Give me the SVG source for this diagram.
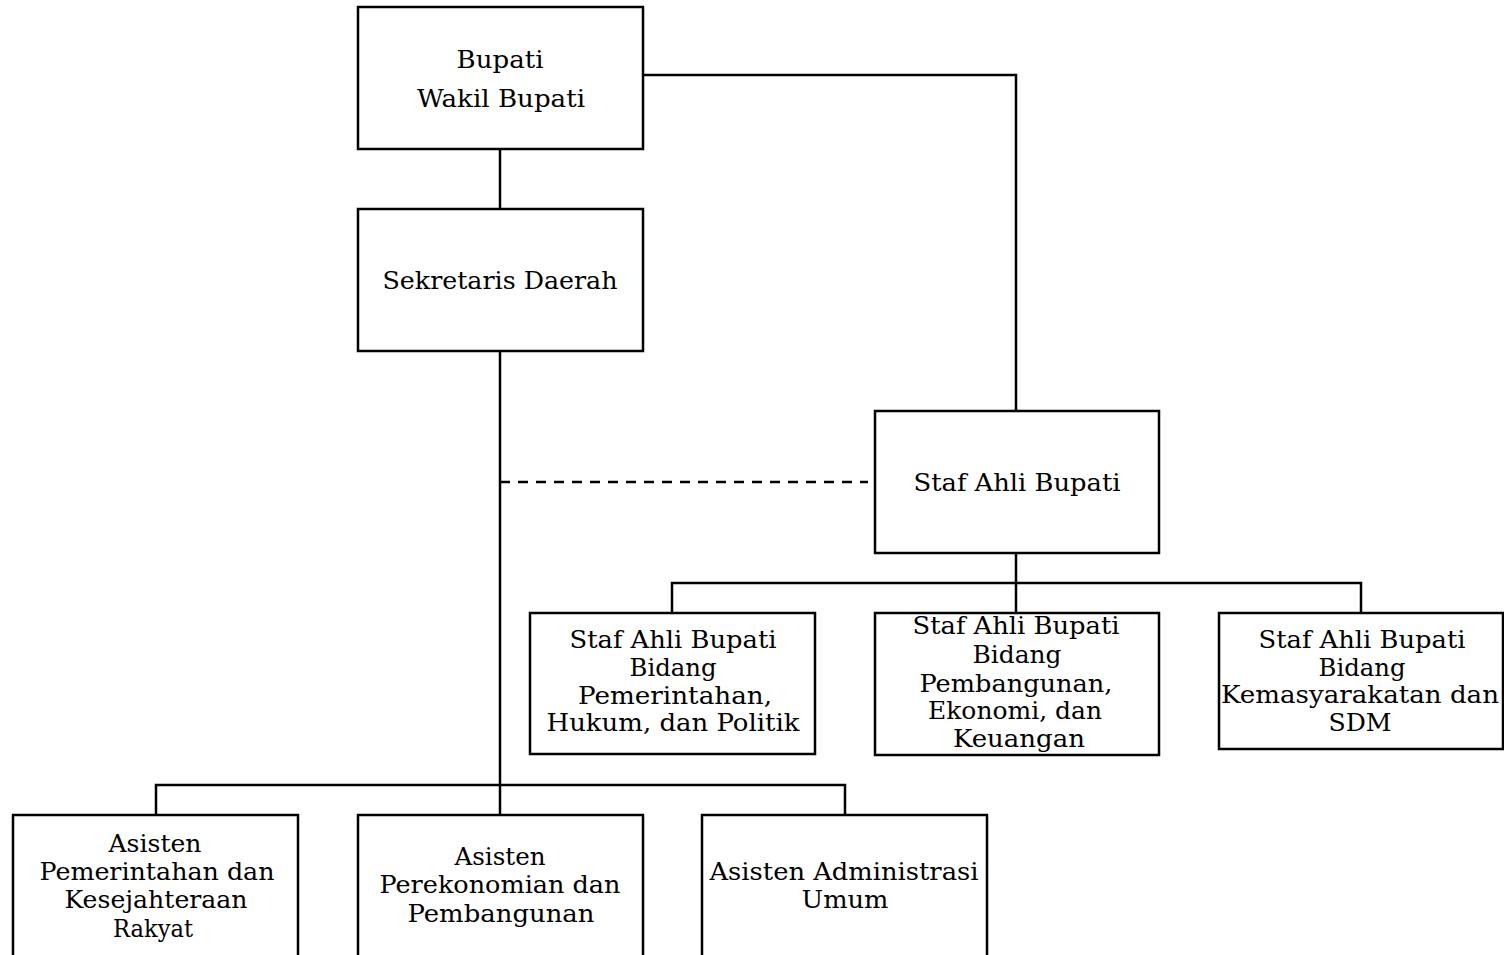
<svg xmlns="http://www.w3.org/2000/svg" width="1504" height="955" viewBox="0 0 1504 955">
<style>
.box{fill:#fff;stroke:#000;stroke-width:2.5}
.ln{fill:none;stroke:#000;stroke-width:2.5}
.dash{fill:none;stroke:#000;stroke-width:2.5;stroke-dasharray:10 8}
text{font-family:"DejaVu Serif","Liberation Serif",serif;font-size:23.5px;fill:#000;text-anchor:middle}
</style>
<rect width="1504" height="955" fill="#fff"/>
<g id="connectors">
<path class="ln" d="M643 75H1016V411"/>
<path class="ln" d="M500 149V209"/>
<path class="ln" d="M500 351V815"/>
<path class="dash" d="M500 482H868"/>
<path class="ln" d="M1016 553V583M672 613V583H1361V613M1016 583V613"/>
<path class="ln" d="M156 815V785H845V815"/>
</g>
<g id="bupati">
<rect class="box" x="358" y="7" width="285" height="142"/>
<text x="500" y="68" textLength="87" lengthAdjust="spacingAndGlyphs">Bupati</text>
<text x="501" y="107" textLength="168" lengthAdjust="spacingAndGlyphs">Wakil Bupati</text>
</g>
<g id="sekda">
<rect class="box" x="358" y="209" width="285" height="142"/>
<text x="500" y="289" textLength="235" lengthAdjust="spacingAndGlyphs">Sekretaris Daerah</text>
</g>
<g id="staf-ahli">
<rect class="box" x="875" y="411" width="284" height="142"/>
<text x="1017" y="491" textLength="207" lengthAdjust="spacingAndGlyphs">Staf Ahli Bupati</text>
</g>
<g id="staf-pemerintahan">
<rect class="box" x="530" y="613" width="285" height="141"/>
<text x="673" y="648" textLength="207" lengthAdjust="spacingAndGlyphs">Staf Ahli Bupati</text>
<text x="673" y="676" textLength="87" lengthAdjust="spacingAndGlyphs">Bidang</text>
<text x="675" y="704" textLength="194" lengthAdjust="spacingAndGlyphs">Pemerintahan,</text>
<text x="673" y="731" textLength="253" lengthAdjust="spacingAndGlyphs">Hukum, dan Politik</text>
</g>
<g id="staf-pembangunan">
<rect class="box" x="875" y="613" width="284" height="142"/>
<text x="1016" y="634" textLength="207" lengthAdjust="spacingAndGlyphs">Staf Ahli Bupati</text>
<text x="1017" y="663" textLength="89" lengthAdjust="spacingAndGlyphs">Bidang</text>
<text x="1016" y="692" textLength="193" lengthAdjust="spacingAndGlyphs">Pembangunan,</text>
<text x="1015" y="719" textLength="174" lengthAdjust="spacingAndGlyphs">Ekonomi, dan</text>
<text x="1019" y="747" textLength="132" lengthAdjust="spacingAndGlyphs">Keuangan</text>
</g>
<g id="staf-kemasyarakatan">
<rect class="box" x="1219" y="613" width="284" height="136"/>
<text x="1362" y="648" textLength="207" lengthAdjust="spacingAndGlyphs">Staf Ahli Bupati</text>
<text x="1362" y="676" textLength="87" lengthAdjust="spacingAndGlyphs">Bidang</text>
<text x="1360" y="703" textLength="278" lengthAdjust="spacingAndGlyphs">Kemasyarakatan dan</text>
<text x="1360" y="731" textLength="63" lengthAdjust="spacingAndGlyphs">SDM</text>
</g>
<g id="asisten-pemerintahan">
<rect class="box" x="13" y="815" width="285" height="150"/>
<text x="155" y="852" textLength="93" lengthAdjust="spacingAndGlyphs">Asisten</text>
<text x="157" y="880" textLength="235" lengthAdjust="spacingAndGlyphs">Pemerintahan dan</text>
<text x="156" y="908" textLength="183" lengthAdjust="spacingAndGlyphs">Kesejahteraan</text>
<text x="153" y="937" textLength="80" lengthAdjust="spacingAndGlyphs">Rakyat</text>
</g>
<g id="asisten-perekonomian">
<rect class="box" x="358" y="815" width="285" height="150"/>
<text x="500" y="865" textLength="91" lengthAdjust="spacingAndGlyphs">Asisten</text>
<text x="500" y="893" textLength="241" lengthAdjust="spacingAndGlyphs">Perekonomian dan</text>
<text x="501" y="922" textLength="187" lengthAdjust="spacingAndGlyphs">Pembangunan</text>
</g>
<g id="asisten-administrasi">
<rect class="box" x="702" y="815" width="285" height="150"/>
<text x="844" y="880" textLength="269" lengthAdjust="spacingAndGlyphs">Asisten Administrasi</text>
<text x="845" y="908" textLength="87" lengthAdjust="spacingAndGlyphs">Umum</text>
</g>
</svg>
